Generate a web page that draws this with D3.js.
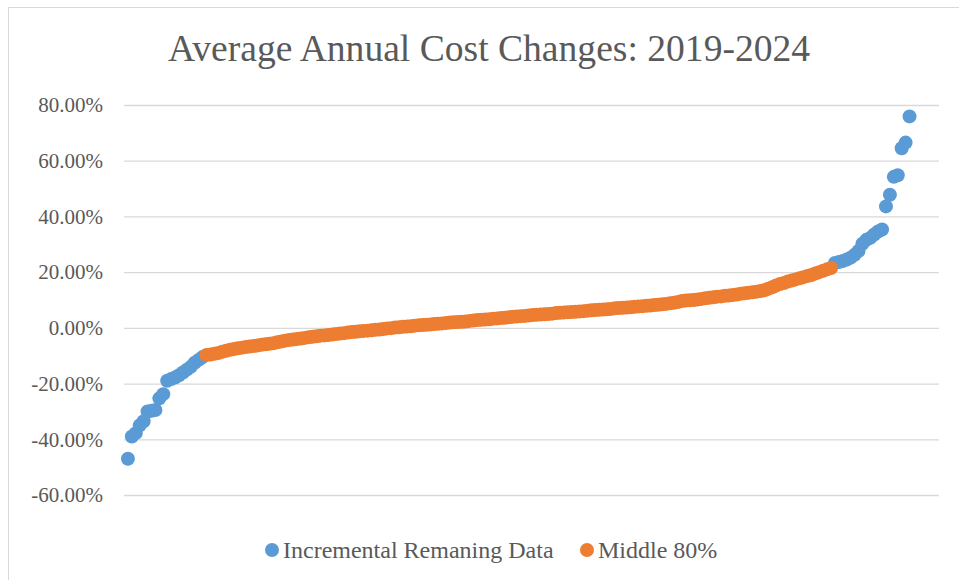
<!DOCTYPE html>
<html>
<head>
<meta charset="utf-8">
<script src="https://cdn.jsdelivr.net/npm/d3@7"></script>
<style>
  body { margin: 0; background: #fff; }
  svg { display: block; }
</style>
</head>
<body>
<svg id="chart"></svg>
<script>
// values are percentages, sorted low to high
var lowTail = [-47.0, -39.0, -37.8, -35.0, -33.5, -30.0, -29.8, -29.5, -25.3, -23.8,
               -19.0, -18.4, -17.8, -17.0, -16.0, -15.0, -14.0, -12.5, -11.5, -10.5];

var middle80 = [-9.7, -9.6, -9.3, -9.0, -8.6, -8.2, -7.9, -7.6, -7.3, -7.1,
                -6.9, -6.7, -6.5, -6.3, -6.1, -5.9, -5.7, -5.5, -5.2, -4.9,
                -4.6, -4.4, -4.2, -4.0, -3.8, -3.6, -3.4, -3.2, -3.0, -2.8,
                -2.7, -2.6, -2.4, -2.2, -2.0, -1.9, -1.7, -1.5, -1.4, -1.2,
                -1.1, -1.0, -0.9, -0.7, -0.6, -0.4, -0.2, -0.1, 0.1, 0.2,
                0.4, 0.5, 0.6, 0.8, 0.9, 1.0, 1.1, 1.2, 1.4, 1.5,
                1.6, 1.7, 1.9, 2.0, 2.1, 2.2, 2.3, 2.5, 2.6, 2.8,
                2.9, 3.0, 3.1, 3.3, 3.4, 3.5, 3.6, 3.8, 4.0, 4.1,
                4.2, 4.3, 4.4, 4.6, 4.7, 4.8, 4.9, 5.0, 5.1, 5.3,
                5.4, 5.5, 5.6, 5.7, 5.8, 5.9, 6.0, 6.1, 6.3, 6.4,
                6.5, 6.6, 6.7, 6.8, 7.0, 7.1, 7.2, 7.3, 7.4, 7.6,
                7.7, 7.8, 7.9, 8.0, 8.2, 8.3, 8.5, 8.6, 8.8, 9.0,
                9.3, 9.6, 9.8, 9.9, 10.0, 10.2, 10.4, 10.6, 10.8, 11.0,
                11.2, 11.3, 11.5, 11.6, 11.8, 12.0, 12.2, 12.4, 12.6, 12.8,
                13.0, 13.2, 13.5, 14.0, 14.6, 15.2, 15.7, 16.1, 16.6, 17.0,
                17.4, 17.8, 18.2, 18.6, 19.0, 19.5, 20.0, 20.5, 21.0, 21.5];

var highTail = [23.3, 23.6, 24.0, 24.5, 25.2, 26.2, 27.6, 30.2, 31.6, 32.3,
                33.5, 34.6, 35.3, 43.6, 47.8, 54.2, 54.8, 64.5, 66.5, 75.9];

var yTicks = [-60, -40, -20, 0, 20, 40, 60, 80];
var seriesNames = ["Incremental Remaning Data", "Middle 80%"];
var seriesColors = ["#5B9BD5", "#ED7D31"];

// rank every value along x
var n = 0;
var blueData = [], orangeData = [];
lowTail.forEach(function(v) { n++; blueData.push({ rank: n, value: v }); });
middle80.forEach(function(v) { n++; orangeData.push({ rank: n, value: v }); });
highTail.forEach(function(v) { n++; blueData.push({ rank: n, value: v }); });

var svgWidth = 959, svgHeight = 580;
var svg = d3.select("#chart")
    .attr("width", svgWidth)
    .attr("height", svgHeight);

// chart border
svg.append("rect")
    .attr("x", 8.5)
    .attr("y", 7.5)
    .attr("width", 970)
    .attr("height", 600)
    .attr("fill", "none")
    .attr("stroke", "#D9D9D9");

var x = d3.scaleLinear()
    .domain([0, 207.5])
    .range([124, 939]);

var y = d3.scaleLinear()
    .domain([-60, 80])
    .range([495, 105]);

svg.append("text")
    .attr("x", 489)
    .attr("y", 61)
    .attr("text-anchor", "middle")
    .attr("font-family", "Liberation Serif, Times New Roman, serif")
    .attr("font-size", "37.6px")
    .attr("fill", "#595959")
    .text("Average Annual Cost Changes: 2019-2024");

// gridlines + labels
var yAxis = d3.axisLeft(y)
    .tickValues(yTicks)
    .tickSize(-(939 - 124))
    .tickPadding(21)
    .tickFormat(function(d) { return d.toFixed(2) + "%"; });

var gy = svg.append("g")
    .attr("transform", "translate(124,0)")
    .call(yAxis);

gy.select(".domain").remove();
gy.selectAll(".tick line")
    .attr("stroke", "#D9D9D9")
    .attr("stroke-width", 1.3);
gy.selectAll(".tick text")
    .attr("fill", "#595959")
    .attr("font-family", "Liberation Serif, Times New Roman, serif")
    .attr("font-size", "21px");

svg.append("g")
    .selectAll("circle")
    .data(blueData)
    .enter().append("circle")
    .attr("cx", function(d) { return x(d.rank); })
    .attr("cy", function(d) { return y(d.value); })
    .attr("r", 7)
    .attr("fill", seriesColors[0]);

svg.append("g")
    .selectAll("circle")
    .data(orangeData)
    .enter().append("circle")
    .attr("cx", function(d) { return x(d.rank); })
    .attr("cy", function(d) { return y(d.value); })
    .attr("r", 7)
    .attr("fill", seriesColors[1]);

// legend
var legendX = [272, 587];
var legend = svg.append("g");
seriesNames.forEach(function(name, i) {
    legend.append("circle")
        .attr("cx", legendX[i])
        .attr("cy", 550)
        .attr("r", 7)
        .attr("fill", seriesColors[i]);
    legend.append("text")
        .attr("x", legendX[i] + 11)
        .attr("y", 558)
        .attr("font-family", "Liberation Serif, Times New Roman, serif")
        .attr("font-size", "24px")
        .attr("fill", "#595959")
        .text(name);
});
</script>
</body>
</html>
